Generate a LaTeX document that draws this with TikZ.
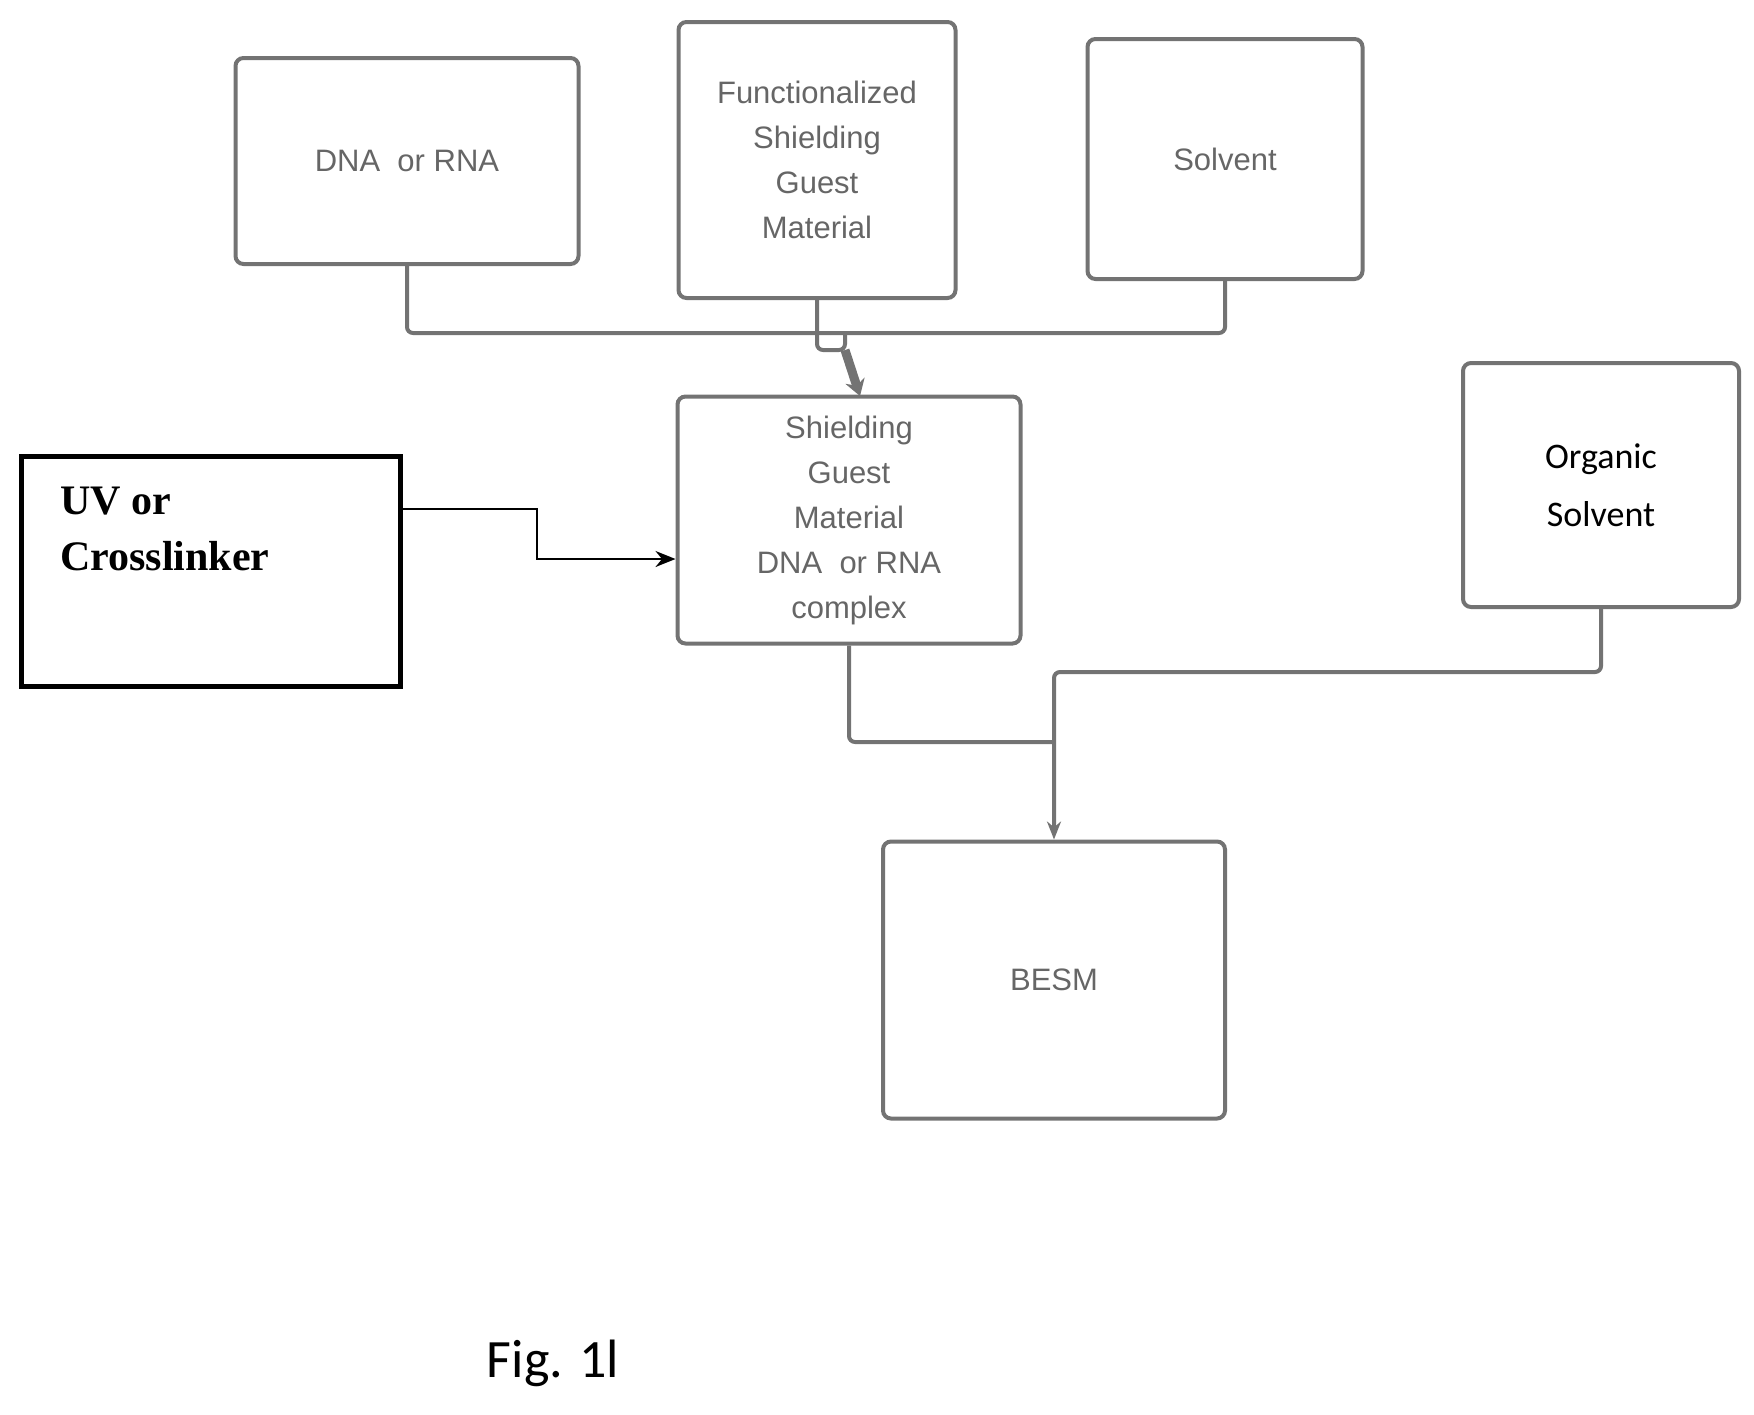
\documentclass[tikz,border=0pt]{standalone}
\usepackage{fontspec}
\setmainfont{Liberation Sans}
\newfontfamily\carl{Carlito}
\newfontfamily\tnr{Liberation Serif}
\usetikzlibrary{arrows.meta}
\begin{document}
\begin{tikzpicture}[x=1pt,y=-1pt,
 gbox/.style={draw=black!55,line width=4pt,rounded corners=8pt,align=center,text=black!60,font=\fontsize{31}{45}\selectfont,inner sep=0pt},
 gline/.style={draw=black!55,line width=4pt,rounded corners=6pt},
 garr/.style={gline,-{Stealth[length=18pt,width=14pt]}}]
\useasboundingbox (0,0) rectangle (1754,1414);
\node[gbox,minimum width=343pt,minimum height=206pt] (dna) at (407,161) {DNA\ \ or RNA};
\node[gbox,minimum width=277pt,minimum height=276pt] (fun) at (817,160) {Functionalized\\Shielding\\Guest\\Material};
\node[gbox,minimum width=275pt,minimum height=240pt] (sol) at (1225,159) {Solvent};
\node[gbox,minimum width=343pt,minimum height=247pt] (cpx) at (849,520) {Shielding\\Guest\\Material\\DNA\ \ or RNA\\complex};
\node[draw=black,line width=5pt,minimum width=379pt,minimum height=230pt,inner sep=0pt] (uv) at (211,571) {};
\node[anchor=north west,font=\tnr\bfseries\fontsize{42}{56}\selectfont,align=left,inner sep=0pt] (uvt) at (60,487) {UV or\\Crosslinker};
\node[gbox,minimum width=276pt,minimum height=244pt,text=black,font=\carl\fontsize{36}{58}\selectfont] (org) at (1601,485) {Organic\\Solvent};
\node[gbox,minimum width=342pt,minimum height=277pt] (besm) at (1054,980) {BESM};
\node[font=\carl\fontsize{54}{60}\selectfont] (fig) at (553,1363) {Fig. 1l};
\coordinate (j) at (830,333);
\draw[gline] (dna.south) |- (j);
\draw[gline] (sol.south) |- (j);
\draw[gline] (fun.south) -- (817,350) -- (845,350) -- (845,333);
\draw[draw=black!55,line width=9pt,-{Stealth[length=16pt,width=20pt]}] (845,350) -- (860,396);
\draw[line width=2pt,-{Stealth[length=20pt,width=16pt]}] (uv.east |- 0,509) -| (537,559) -- (cpx.west |- 0,559);
\draw[gline] (cpx.south) |- (1054,742);
\draw[garr] (org.south) |- (1054,672) -- (besm.north);
\end{tikzpicture}
\end{document}
